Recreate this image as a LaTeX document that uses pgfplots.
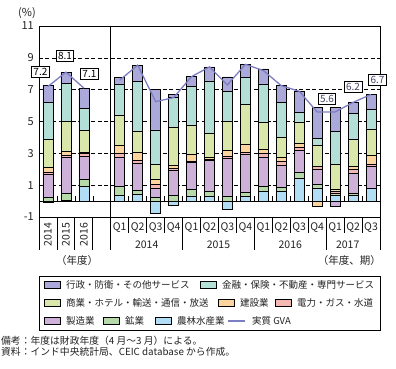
\documentclass[border=0pt]{standalone}
\usepackage{fontspec}
\setmainfont{Noto Sans CJK JP}
\usepackage{pgfplots}
\pgfplotsset{compat=1.18}
\usepackage{pgfplotstable}

\definecolor{cPub}{HTML}{ABA9D9}
\definecolor{cFin}{HTML}{B3DFD6}
\definecolor{cTrd}{HTML}{D9E7AA}
\definecolor{cCon}{HTML}{FBD49E}
\definecolor{cEle}{HTML}{F4B8B3}
\definecolor{cMfg}{HTML}{CDB1D9}
\definecolor{cMin}{HTML}{B5D9A8}
\definecolor{cAgr}{HTML}{B1DDF5}
\definecolor{cLine}{HTML}{7D7DC2}
\definecolor{txt}{HTML}{222222}

% positive contributions (negatives drawn separately below zero)
\pgfplotstableread{
x agri mining mfg elec constr trade fin pub
0 0 0.25 1.43 0.15 0.31 1.77 2.27 1.07
1 0.02 0.48 2.25 0.11 0.27 1.89 2.35 0.73
2 0.92 0.47 1.42 0.19 0.09 1.36 1.35 1.30
4 0.36 0.56 1.85 0.21 0.51 1.87 2.00 0.40
5 0.44 0.21 1.70 0.19 0.50 1.37 3.10 1.03
6 0 0.25 0.57 0.21 0.36 0.94 2.14 2.53
7 0 0.38 1.53 0.13 0.21 2.38 1.87 0.21
8 0.32 0.43 1.69 0.09 0.39 1.87 2.40 0.63
9 0.33 0.30 1.92 0.08 0.13 1.49 3.30 0.88
10 0 0.33 2.35 0.13 0.35 1.84 1.91 0.89
11 0.27 0.30 2.35 0.13 0.50 2.50 1.74 0.80
12 0.63 0.29 1.85 0.25 0.26 1.64 2.44 0.95
13 0.64 0.24 1.38 0.21 0.29 1.26 2.16 1.09
14 1.43 0.40 1.33 0.25 0.21 1.36 0.57 1.37
15 0.82 0.21 0.99 0.14 0 1.33 0.44 1.94
16 0.38 0.12 0 0.09 0.12 1.58 2.10 1.48
17 0.34 0.16 1.27 0.20 0.21 1.69 1.62 0.71
18 0.82 0 1.36 0.15 0.53 1.68 1.22 0.94
}\pos

\pgfplotstableread{
x gva
0 7.2
1 8.1
2 7.1
}\gvaA

\pgfplotstableread{
x gva
4 7.6
5 8.54
6 6.25
7 6.5
8 7.82
9 8.43
10 7.30
11 8.59
12 8.2
13 7.25
14 6.9
15 5.6
16 5.6
17 6.2
18 6.7
}\gvaQ

\begin{document}
\begin{tikzpicture}[
  lbl/.style={draw=black, line width=0.6pt, fill=white, inner sep=1.8pt, font=\fontsize{10}{11}\selectfont},
  lg/.style={anchor=west, inner sep=0pt, font=\fontsize{9.5}{11}\selectfont, text=txt},
  sw/.style={draw=black, line width=0.6pt}
]
\useasboundingbox (-39pt,-151pt) rectangle (357pt,217pt);

\begin{axis}[
  scale only axis, width=341pt, height=191pt,
  at={(0pt,0pt)}, anchor=south west,
  xmin=-0.5, xmax=18.5, ymin=-1, ymax=11,
  xtick=\empty, ytick={-1,1,...,11},
  ymajorgrids,
  grid style={black, line width=0.5pt, dash pattern=on 4pt off 2.5pt},
  major tick length=0pt,
  axis line style={black, line width=0.8pt},
  yticklabel style={font=\fontsize{11}{12}\selectfont, text=txt, inner sep=0pt, xshift=-5pt},
  /pgf/number format/assume math mode=true,
  ybar stacked, bar width=10pt,
  every axis plot/.append style={draw=black, line width=0.6pt},
]
\addplot[fill=cAgr] table[x=x,y=agri]{\pos};
\addplot[fill=cMin] table[x=x,y=mining]{\pos};
\addplot[fill=cMfg] table[x=x,y=mfg]{\pos};
\addplot[fill=cEle] table[x=x,y=elec]{\pos};
\addplot[fill=cCon] table[x=x,y=constr]{\pos};
\addplot[fill=cTrd] table[x=x,y=trade]{\pos};
\addplot[fill=cFin] table[x=x,y=fin]{\pos};
\addplot[fill=cPub] table[x=x,y=pub]{\pos};
\draw[black, line width=0.8pt] (axis cs:-0.5,0) -- (axis cs:18.5,0);
\draw[black, line width=0.8pt] (axis cs:3.5,-1) -- (axis cs:3.5,11);
\end{axis}

\begin{axis}[
  scale only axis, width=341pt, height=191pt,
  at={(0pt,0pt)}, anchor=south west,
  xmin=-0.5, xmax=18.5, ymin=-1, ymax=11,
  hide axis, clip=false,
]
\addplot[ybar, bar width=10pt, bar shift=0pt, fill=cAgr, draw=black, line width=0.6pt]
  coordinates {(0,-0.05) (6,-0.75) (7,-0.25) (10,-0.5)};
\addplot[ybar, bar width=10pt, bar shift=0pt, fill=cCon, draw=black, line width=0.6pt]
  coordinates {(15,-0.3)};
\addplot[ybar, bar width=10pt, bar shift=0pt, fill=cMfg, draw=black, line width=0.6pt]
  coordinates {(16,-0.3)};
\addplot[sharp plot, no marks, color=cLine, line width=1.3pt] table[x=x,y=gva]{\gvaA};
\addplot[sharp plot, no marks, color=cLine, line width=1.3pt] table[x=x,y=gva]{\gvaQ};
\node[lbl] at (axis cs:-0.42,8.11) {7.2};
\node[lbl] at (axis cs:0.95,9.12) {8.1};
\node[lbl] at (axis cs:2.31,7.98) {7.1};
\node[lbl, text=cLine!55!black] at (axis cs:15.55,6.44) {5.6};
\node[lbl, text=cLine!55!black] at (axis cs:17.0,7.2) {6.2};
\node[lbl, text=cLine!55!black] at (axis cs:18.36,7.6) {6.7};
\end{axis}

\def\U{17.947}
% zero-line ticks
\foreach \b in {0.5,1.5,2.5,4.5,5.5,6.5,7.5,8.5,9.5,10.5,11.5,12.5,13.5,14.5,15.5,16.5,17.5}
  \draw[black, line width=0.6pt] ({(\b+0.5)*\U*1pt},15.917pt) -- ++(0pt,5pt);
% category separators below the axis
\foreach \b in {-0.5,0.5,1.5,2.5,3.5,7.5,11.5,15.5,18.5}
  \draw[black, line width=0.8pt] ({(\b+0.5)*\U*1pt},0pt) -- ++(0pt,-33pt);
\foreach \b in {4.5,5.5,6.5,8.5,9.5,10.5,12.5,13.5,14.5,16.5,17.5}
  \draw[black, line width=0.8pt] ({(\b+0.5)*\U*1pt},0pt) -- ++(0pt,-16pt);

\begin{scope}[every node/.style={font=\fontsize{10.5}{12}\selectfont, text=txt, inner sep=0pt}]
\foreach \i/\t in {0/2014,1/2015,2/2016}
  \node[rotate=90] at ({(\i+0.5)*\U*1pt},-17.5pt) {\t};
\foreach \i/\t in {4/Q1,5/Q2,6/Q3,7/Q4,8/Q1,9/Q2,10/Q3,11/Q4,12/Q1,13/Q2,14/Q3,15/Q4,16/Q1,17/Q2,18/Q3}
  \node at ({(\i+0.5)*\U*1pt},-11pt) {\t};
\foreach \i/\t in {5.5/2014,9.5/2015,13.5/2016,16.7/2017}
  \node at ({(\i+0.5)*\U*1pt},-28pt) {\t};
\node at (38pt,-44pt) {（年度）};
\node[anchor=east] at (342pt,-44pt) {（年度、期）};
\node[font=\fontsize{11}{12}\selectfont] at (-12pt,204pt) {(\%)};
\end{scope}

% legend
\draw[black, line width=0.8pt] (0pt,-59pt) rectangle (341pt,-113pt);
\draw[sw, fill=cPub] (5pt,-71.5pt) rectangle ++(16pt,7pt);
\node[lg] at (27pt,-68pt) {行政・防衛・その他サービス};
\draw[sw, fill=cFin] (161pt,-71.5pt) rectangle ++(16pt,7pt);
\node[lg] at (183pt,-68pt) {金融・保険・不動産・専門サービス};
\draw[sw, fill=cTrd] (5pt,-89.5pt) rectangle ++(16pt,7pt);
\node[lg] at (27pt,-86pt) {商業・ホテル・輸送・通信・放送};
\draw[sw, fill=cCon] (179pt,-89.5pt) rectangle ++(16pt,7pt);
\node[lg] at (201pt,-86pt) {建設業};
\draw[sw, fill=cEle] (236pt,-89.5pt) rectangle ++(16pt,7pt);
\node[lg] at (258pt,-86pt) {電力・ガス・水道};
\draw[sw, fill=cMfg] (5pt,-107.5pt) rectangle ++(16pt,7pt);
\node[lg] at (27pt,-104pt) {製造業};
\draw[sw, fill=cMin] (64pt,-107.5pt) rectangle ++(16pt,7pt);
\node[lg] at (86pt,-104pt) {鉱業};
\draw[sw, fill=cAgr] (116pt,-107.5pt) rectangle ++(16pt,7pt);
\node[lg] at (138pt,-104pt) {農林水産業};
\draw[cLine, line width=1.3pt] (189pt,-104pt) -- (206pt,-104pt);
\node[lg] at (213pt,-104pt) {実質 GVA};

% notes
\node[lg, font=\fontsize{9.8}{10}\selectfont] at (-38pt,-124pt) {備考：年度は財政年度（4 月～3 月）による。};
\node[lg, font=\fontsize{9.8}{10}\selectfont] at (-38pt,-135pt) {資料：インド中央統計局、CEIC database から作成。};
\end{tikzpicture}
\end{document}
